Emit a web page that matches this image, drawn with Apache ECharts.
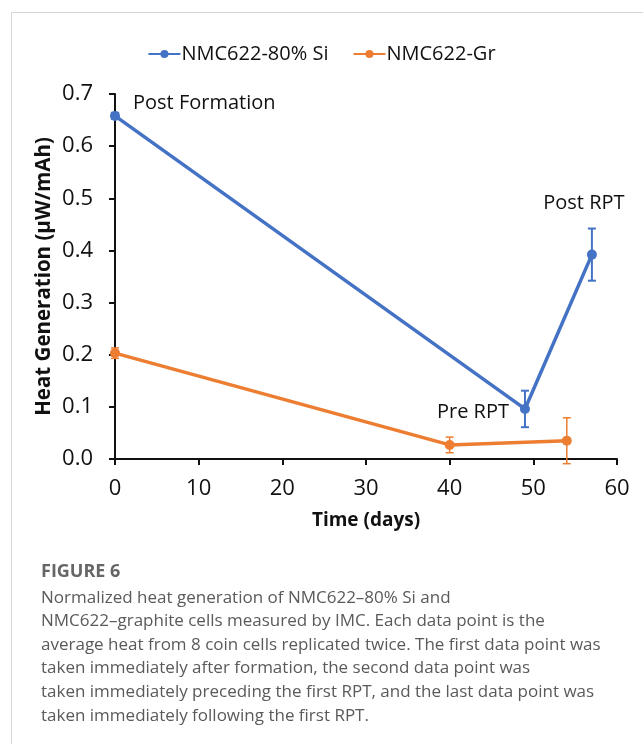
<!DOCTYPE html>
<html>
<head>
<meta charset="utf-8">
<script src="https://cdn.jsdelivr.net/npm/echarts@6/dist/echarts.min.js"></script>
<style>
  html, body { margin: 0; padding: 0; background: #fff; overflow: hidden; }
  #frame { position: absolute; left: 11px; top: 12px; width: 700px; height: 800px; border: 1px solid #d6d6d6; box-sizing: border-box; }
  #chart { position: absolute; left: 0; top: 0; width: 643px; height: 744px; }
</style>
</head>
<body>
<div id="frame"></div>
<div id="chart"></div>
<script>
// ---- data ----
const siName = 'NMC622-80% Si';
const grName = 'NMC622-Gr';
const siX = [0, 49, 57];
const siY = [0.658, 0.096, 0.392];
const siErr = [0.006, 0.035, 0.05];
const grX = [0, 40, 54];
const grY = [0.203, 0.027, 0.035];
const grErr = [0.01, 0.015, 0.044];
const siLabels = ['Post Formation', 'Pre RPT', 'Post RPT'];
const xTicks = [0, 10, 20, 30, 40, 50, 60];
const yTicks = [0.0, 0.1, 0.2, 0.3, 0.4, 0.5, 0.6, 0.7];
const captionTitle = 'FIGURE 6';
const captionLines = [
  'Normalized heat generation of NMC622\u201380% Si and',
  'NMC622\u2013graphite cells measured by IMC. Each data point is the',
  'average heat from 8 coin cells replicated twice. The first data point was',
  'taken immediately after formation, the second data point was',
  'taken immediately preceding the first RPT, and the last data point was',
  'taken immediately following the first RPT.'
];

const BLUE = '#4472C4';
const ORANGE = '#ED7D31';
const FONT = 'Open Sans';

function pairs(xs, ys) { return xs.map((x, i) => [x, ys[i]]); }
function errData(xs, ys, es) { return xs.map((x, i) => [x, ys[i] - es[i], ys[i] + es[i]]); }

function errRender(color, width) {
  return function (params, api) {
    const x = api.value(0);
    const lo = api.coord([x, api.value(1)]);
    const hi = api.coord([x, api.value(2)]);
    const cap = 4;
    const style = { stroke: color, lineWidth: width, fill: null };
    return {
      type: 'group',
      children: [
        { type: 'line', shape: { x1: lo[0], y1: lo[1], x2: hi[0], y2: hi[1] }, style: style },
        { type: 'line', shape: { x1: lo[0] - cap, y1: lo[1], x2: lo[0] + cap, y2: lo[1] }, style: style },
        { type: 'line', shape: { x1: hi[0] - cap, y1: hi[1], x2: hi[0] + cap, y2: hi[1] }, style: style }
      ]
    };
  };
}

const labelPos = [
  { position: 'right', offset: [8, -13] },
  { position: 'left', offset: [-6, 3] },
  { position: 'top', offset: [-8, -31] }
];

const siData = pairs(siX, siY).map((p, i) => ({
  value: p,
  label: Object.assign({ show: true, formatter: siLabels[i], color: '#111', fontSize: 20, fontFamily: FONT }, labelPos[i])
}));

const chart = echarts.init(document.getElementById('chart'), null, { renderer: 'canvas' });
chart.setOption({
  animation: false,
  backgroundColor: 'transparent',
  textStyle: { fontFamily: FONT },
  legend: {
    data: [siName, grName],
    top: 39,
    left: 'center',
    itemWidth: 32,
    itemHeight: 10,
    itemGap: 24,
    textStyle: { fontSize: 20, color: '#111', fontFamily: FONT, padding: [0, 0, 0, -4] }
  },
  grid: { left: 115, right: 26, top: 94, bottom: 285, containLabel: false },
  xAxis: {
    type: 'value',
    min: 0, max: 60, interval: 10,
    name: 'Time (days)',
    nameLocation: 'middle',
    nameGap: 52,
    nameTextStyle: { fontSize: 19, fontWeight: 'bold', color: '#111', fontFamily: FONT },
    axisLine: { lineStyle: { color: '#111', width: 2 } },
    axisTick: { show: true, length: 6, lineStyle: { color: '#111', width: 2 } },
    axisLabel: { fontSize: 22, color: '#111', margin: 19, fontFamily: FONT,
      formatter: v => xTicks.includes(v) ? String(v) : '' },
    splitLine: { show: false }
  },
  yAxis: {
    type: 'value',
    min: 0, max: 0.7, interval: 0.1,
    name: 'Heat Generation (\u00b5W/mAh)',
    nameLocation: 'middle',
    nameGap: 60,
    nameMoveOverlap: false,
    nameTextStyle: { fontSize: 20.5, fontWeight: 'bold', color: '#111', fontFamily: FONT },
    axisLine: { show: true, lineStyle: { color: '#111', width: 2 } },
    axisTick: { show: true, length: 6, lineStyle: { color: '#111', width: 2 } },
    axisLabel: { fontSize: 22, color: '#111', margin: 22, fontFamily: FONT,
      formatter: v => Number(v).toFixed(1) },
    splitLine: { show: false }
  },
  series: [
    {
      name: grName, type: 'line', data: pairs(grX, grY),
      symbol: 'circle', symbolSize: 10,
      itemStyle: { color: ORANGE },
      lineStyle: { color: ORANGE, width: 3.5 },
      z: 3
    },
    {
      name: siName, type: 'line', data: siData,
      symbol: 'circle', symbolSize: 10,
      itemStyle: { color: BLUE },
      lineStyle: { color: BLUE, width: 3.5 },
      z: 4
    },
    {
      type: 'custom', data: errData(grX, grY, grErr),
      renderItem: errRender(ORANGE, 1.5), z: 2, silent: true
    },
    {
      type: 'custom', data: errData(siX, siY, siErr),
      renderItem: errRender(BLUE, 2), z: 2, silent: true
    }
  ],
  graphic: [
    {
      type: 'text', left: 41, top: 563,
      style: { text: captionTitle, fontSize: 18, fontWeight: 'bold', fill: '#666', fontFamily: FONT }
    },
    {
      type: 'text', left: 41, top: 586,
      style: { text: captionLines.join('\n'), fontSize: 17, lineHeight: 23.6, fill: '#5a5a5a', fontFamily: FONT }
    }
  ]
});
</script>
</body>
</html>
